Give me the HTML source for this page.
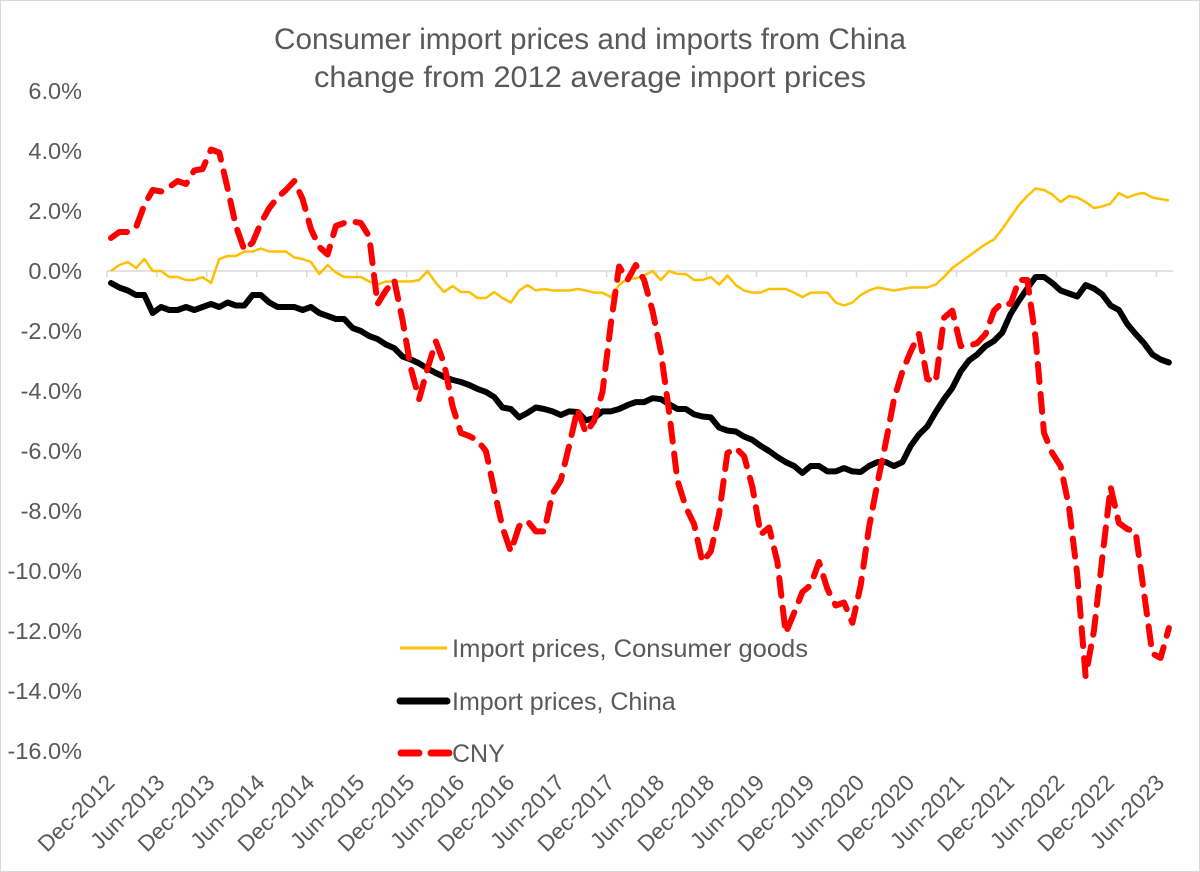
<!DOCTYPE html>
<html><head><meta charset="utf-8"><style>
html,body{margin:0;padding:0;background:#fff}
#chart{position:absolute;left:0;top:0}
text{font-family:"Liberation Sans",Calibri,sans-serif;fill:#595959}
</style></head><body>
<svg id="chart" width="1200" height="872">
<rect x="0.5" y="0.5" width="1199" height="871" fill="#fff" stroke="#d9d9d9"/>
<text x="590" y="49" font-size="29.5" text-anchor="middle" textLength="632" lengthAdjust="spacingAndGlyphs">Consumer import prices and imports from China</text>
<text x="590" y="87" font-size="29.5" text-anchor="middle" textLength="552" lengthAdjust="spacingAndGlyphs">change from 2012 average import prices</text>
<g id="yaxis"></g>
<g id="xaxis"></g>
<g id="series"></g>
<g>
<line x1="400" y1="648" x2="447" y2="648" stroke="#ffc000" stroke-width="3"/>
<text x="452" y="657" font-size="25" textLength="356" lengthAdjust="spacingAndGlyphs">Import prices, Consumer goods</text>
<line x1="400" y1="701" x2="447" y2="701" stroke="#000" stroke-width="7" stroke-linecap="round"/>
<text x="452" y="710" font-size="25">Import prices, China</text>
<line x1="401" y1="753" x2="449" y2="753" stroke="#ff0000" stroke-width="7" stroke-linecap="round" stroke-dasharray="18,12"/>
<text x="452" y="762" font-size="25">CNY</text>
</g>
</svg>
<script>
const yTicks = [6,4,2,0,-2,-4,-6,-8,-10,-12,-14,-16];
const xLabels = ["Dec-2012","Jun-2013","Dec-2013","Jun-2014","Dec-2014","Jun-2015","Dec-2015","Jun-2016","Dec-2016","Jun-2017","Dec-2017","Jun-2018","Dec-2018","Jun-2019","Dec-2019","Jun-2020","Dec-2020","Jun-2021","Dec-2021","Jun-2022","Dec-2022","Jun-2023"];
const consumer = [0.0,0.2,0.3,0.1,0.4,0.0,0.0,-0.2,-0.2,-0.3,-0.3,-0.2,-0.4,0.4,0.5,0.5,0.65,0.65,0.75,0.65,0.65,0.65,0.45,0.4,0.3,-0.1,0.2,-0.05,-0.2,-0.2,-0.2,-0.35,-0.45,-0.35,-0.35,-0.35,-0.35,-0.3,0.0,-0.4,-0.7,-0.5,-0.7,
-0.7,-0.9,-0.9,-0.7,-0.9,-1.05,-0.65,-0.47,-0.65,-0.6,-0.65,-0.65,-0.65,-0.6,-0.65,-0.72,-0.72,-0.87,-0.47,-0.25,-0.25,-0.15,0.0,-0.3,0.0,-0.1,-0.1,-0.3,-0.3,-0.2,-0.45,-0.15,-0.47,-0.65,-0.72,-0.72,-0.6,-0.6,-0.6,-0.72,-0.87,-0.72,-0.72,
-0.72,-1.05,-1.15,-1.05,-0.8,-0.65,-0.55,-0.6,-0.65,-0.6,-0.55,-0.55,-0.55,-0.45,-0.2,0.1,0.3,0.5,0.7,0.9,1.05,1.4,1.8,2.2,2.5,2.75,2.7,2.55,2.3,2.5,2.45,2.3,2.1,2.15,2.25,2.6,2.45,2.55,2.6,2.45,2.4,2.35];
const china = [-0.4,-0.55,-0.65,-0.8,-0.8,-1.4,-1.2,-1.3,-1.3,-1.2,-1.3,-1.2,-1.1,-1.2,-1.05,-1.15,-1.15,-0.8,-0.8,-1.05,-1.2,-1.2,-1.2,-1.3,-1.2,-1.4,-1.5,-1.6,-1.6,-1.9,-2.0,-2.17,-2.27,-2.45,-2.57,-2.85,-2.95,-3.08,-3.25,-3.4,-3.53,-3.63,-3.7,
-3.8,-3.93,-4.03,-4.2,-4.55,-4.6,-4.88,-4.73,-4.55,-4.6,-4.68,-4.8,-4.68,-4.7,-4.98,-4.9,-4.68,-4.68,-4.6,-4.47,-4.37,-4.37,-4.24,-4.27,-4.44,-4.6,-4.6,-4.78,-4.85,-4.88,-5.22,-5.32,-5.35,-5.52,-5.63,-5.83,-6.0,-6.2,-6.37,-6.5,-6.73,-6.5,-6.5,
-6.68,-6.68,-6.57,-6.68,-6.7,-6.5,-6.37,-6.37,-6.5,-6.37,-5.83,-5.45,-5.18,-4.7,-4.27,-3.9,-3.35,-2.98,-2.78,-2.5,-2.33,-2.05,-1.43,-0.98,-0.58,-0.2,-0.2,-0.4,-0.65,-0.75,-0.85,-0.47,-0.58,-0.78,-1.15,-1.3,-1.77,-2.1,-2.4,-2.78,-2.95,-3.05];
const cny = [1.1,1.3,1.3,1.45,2.2,2.7,2.65,2.8,3.0,2.9,3.35,3.4,4.05,3.95,2.75,1.5,0.7,0.95,1.6,2.1,2.45,2.7,3.0,2.4,1.4,0.8,0.55,1.5,1.6,1.65,1.6,1.15,-1.1,-0.65,-0.3,-1.65,-3.25,-4.27,-3.25,-2.35,-3.1,-4.5,-5.4,
-5.5,-5.65,-6.0,-7.3,-8.55,-9.35,-8.5,-8.33,-8.68,-8.68,-7.42,-6.98,-5.83,-4.6,-5.4,-5.0,-4.03,-1.77,0.15,-0.3,0.2,-0.3,-1.32,-2.68,-4.7,-6.98,-7.87,-8.44,-9.7,-9.35,-8.1,-6.07,-5.9,-6.17,-7.2,-8.78,-8.55,-9.7,-12.07,-11.4,-10.7,-10.47,-9.7,
-10.6,-11.15,-11.05,-11.73,-10.47,-8.55,-7.08,-5.73,-4.27,-3.35,-2.68,-2.1,-3.6,-3.7,-1.56,-1.32,-2.5,-2.5,-2.4,-2.1,-1.32,-1.05,-1.1,-0.3,-0.3,-2.24,-5.4,-6.07,-6.5,-7.87,-10.14,-13.5,-12.0,-9.56,-7.2,-8.4,-8.6,-8.7,-10.7,-12.75,-12.9,-11.9];

const NS = "http://www.w3.org/2000/svg";
const X0 = 111, DX = 8.33, Y0 = 271, PY = 30;
function xs(i){ return X0 + DX*i; }
function ys(v){ return Y0 - PY*v; }
function mk(tag, attrs, parent){ const e=document.createElementNS(NS,tag); for(const k in attrs) e.setAttribute(k,attrs[k]); parent.appendChild(e); return e; }

const yg = document.getElementById('yaxis');
yTicks.forEach(v=>{
  const t = mk('text',{x:82,y:ys(v)+8,'font-size':23.5,'text-anchor':'end'},yg);
  
  
  t.textContent = v.toFixed(1)+'%';
});
const xg = document.getElementById('xaxis');
const n = consumer.length;
const zl = mk('line',{x1:X0-DX/2,y1:Y0,x2:xs(n-1)+DX/2,y2:Y0,stroke:'#d9d9d9','stroke-width':1.5},xg);


for(let i=0;i<=n;i+=6){
  const tk = mk('line',{x1:xs(i)-DX/2,y1:Y0,x2:xs(i)-DX/2,y2:Y0+6,stroke:'#d9d9d9','stroke-width':1.5},xg);
  
  
}
xLabels.forEach((lab,k)=>{
  const x = xs(k*6)+5, y = 784;
  const t = mk('text',{x:x,y:y,'font-size':22.5,'text-anchor':'end',transform:`rotate(-45 ${x} ${y})`},xg);
  
  
  t.textContent = lab;
});
const sg = document.getElementById('series');
function path(arr){ return arr.map((v,i)=>(i?'L':'M')+xs(i).toFixed(1)+','+ys(v).toFixed(1)).join(' '); }
const p1 = mk('path',{d:path(consumer),fill:'none',stroke:'#ffc000','stroke-width':2.5,'stroke-linejoin':'round'},sg);


const p2 = mk('path',{d:path(china),fill:'none',stroke:'#000','stroke-width':6,'stroke-linejoin':'round','stroke-linecap':'round'},sg);


const p3 = mk('path',{d:path(cny),fill:'none',stroke:'#ff0000','stroke-width':6,'stroke-linejoin':'round','stroke-linecap':'round','stroke-dasharray':'18,12'},sg);


</script>
</body></html>
